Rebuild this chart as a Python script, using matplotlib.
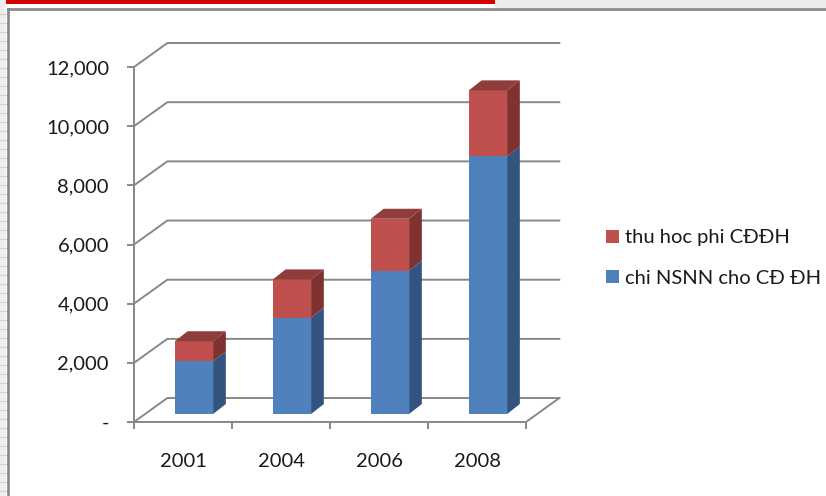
import matplotlib; matplotlib.use('Agg')
import matplotlib.pyplot as plt
from matplotlib.patches import Patch, Polygon, Rectangle
from matplotlib.lines import Line2D

plt.rcParams['font.family'] = ['Lato', 'DejaVu Sans']

years = ['2001', '2004', '2006', '2008']
budget = [1780, 3260, 4850, 8710]        # chi NSNN cho CĐ ĐH
tuition = [680, 1290, 1750, 2230]        # thu hoc phi CĐĐH
yticks = [0, 2000, 4000, 6000, 8000, 10000, 12000]
ytick_labels = ['-', '2,000', '4,000', '6,000', '8,000', '10,000', '12,000']

BLUE, BLUE_SIDE = '#4f81bd', '#33547e'
RED, RED_SIDE, RED_TOP = '#c0504d', '#7f322f', '#8f3d3a'
GRID = '#888888'
TEXT = '#1a1a1a'
FS = 14.5

# fake 3D: wall depth offset and bar depth offset, in data units
DX, DY = 0.34, 810
FDX, FDY = 0.112, 270      # bar front face sits this far back
BDX, BDY = 0.13, 338       # bar thickness along depth
W = 0.39

W_PX, H_PX = 826, 496
fig = plt.figure(figsize=(W_PX / 100, H_PX / 100), dpi=100)
px_per_y = 355 / 12000
ax = fig.add_axes([134 / W_PX, 74 / H_PX, 4.4 * 98 / W_PX, 13000 * px_per_y / H_PX])
ax.set_xlim(0, 4.4)
ax.set_ylim(0, 13000)
ax.patch.set_alpha(0)

for s in ['top', 'right']:
    ax.spines[s].set_visible(False)
for s in ['left', 'bottom']:
    ax.spines[s].set_color(GRID)
    ax.spines[s].set_linewidth(1.4)
ax.spines['left'].set_bounds(0, 12000)
ax.spines['bottom'].set_bounds(0, 4)

ax.set_yticks(yticks)
ax.set_yticklabels(ytick_labels)
ax.tick_params(axis='y', length=5, width=1.4, color=GRID, pad=13,
               labelsize=FS, labelcolor=TEXT)
ax.set_xticks(range(5))
ax.set_xticklabels([])
ax.set_xticks([i + 0.5 for i in range(len(years))], minor=True)
ax.set_xticklabels(years, minor=True)
ax.tick_params(axis='x', which='major', length=5, width=1.4, color=GRID)
ax.tick_params(axis='x', which='minor', length=0, pad=22,
               labelsize=FS, labelcolor=TEXT)

# side wall diagonals + back wall gridlines
for v in yticks:
    ax.plot([0, DX, 4 + DX], [v, v + DY, v + DY], color=GRID, lw=1.4,
            zorder=1, solid_joinstyle='miter')
# floor right edge
ax.plot([4, 4 + DX], [0, DY], color=GRID, lw=1.4, zorder=1)

# stacked boxes
for i, (b, t) in enumerate(zip(budget, tuition)):
    x0 = i + 0.5 - W / 2 + FDX
    x1 = x0 + W
    for lo, hi, front, side in [(0, b, BLUE, BLUE_SIDE), (b, b + t, RED, RED_SIDE)]:
        ax.bar(x0, hi - lo, bottom=lo + FDY, width=W, align='edge',
               color=front, edgecolor='none', zorder=3)
        ax.add_patch(Polygon([(x1, lo + FDY), (x1 + BDX, lo + FDY + BDY),
                              (x1 + BDX, hi + FDY + BDY), (x1, hi + FDY)],
                             closed=True, facecolor=side, edgecolor='none', zorder=3))
    top = b + t + FDY
    ax.add_patch(Polygon([(x0, top), (x1, top), (x1 + BDX, top + BDY), (x0 + BDX, top + BDY)],
                         closed=True, facecolor=RED_TOP, edgecolor='none', zorder=3))

handles = [Patch(facecolor=RED, edgecolor='none'), Patch(facecolor=BLUE, edgecolor='none')]
fig.legend(handles, ['thu hoc phi CĐĐH', 'chi NSNN cho CĐ ĐH'],
           loc='center left', bbox_to_anchor=(588 / W_PX, 1 - 258 / H_PX),
           frameon=False, fontsize=FS, labelcolor=TEXT,
           handlelength=0.65, handleheight=0.65, handletextpad=0.3, labelspacing=1.15)

# sheet frame around the chart
fig.add_artist(Rectangle((0, 1 - 4 / H_PX), 495 / W_PX, 4 / H_PX,
                         transform=fig.transFigure, facecolor='#d40000', edgecolor='none'))
fig.add_artist(Rectangle((495 / W_PX, 1 - 8 / H_PX), 1 - 495 / W_PX, 8 / H_PX,
                         transform=fig.transFigure, facecolor='#ececec', edgecolor='none'))
fig.add_artist(Rectangle((0, 0), 6 / W_PX, 1, transform=fig.transFigure,
                         facecolor='#eeeeee', edgecolor='none'))
for yp in range(14, H_PX, 9):
    fig.add_artist(Line2D([0, 6 / W_PX], [1 - yp / H_PX] * 2, transform=fig.transFigure,
                          color='#d2d2d2', lw=0.8))
fig.add_artist(Line2D([8 / W_PX, 1], [1 - 9 / H_PX] * 2, transform=fig.transFigure,
                      color='#8a8a8a', lw=2))
fig.add_artist(Line2D([8 / W_PX] * 2, [0, 1 - 9 / H_PX], transform=fig.transFigure,
                      color='#8a8a8a', lw=2))

fig.savefig('out.png', dpi=100)
